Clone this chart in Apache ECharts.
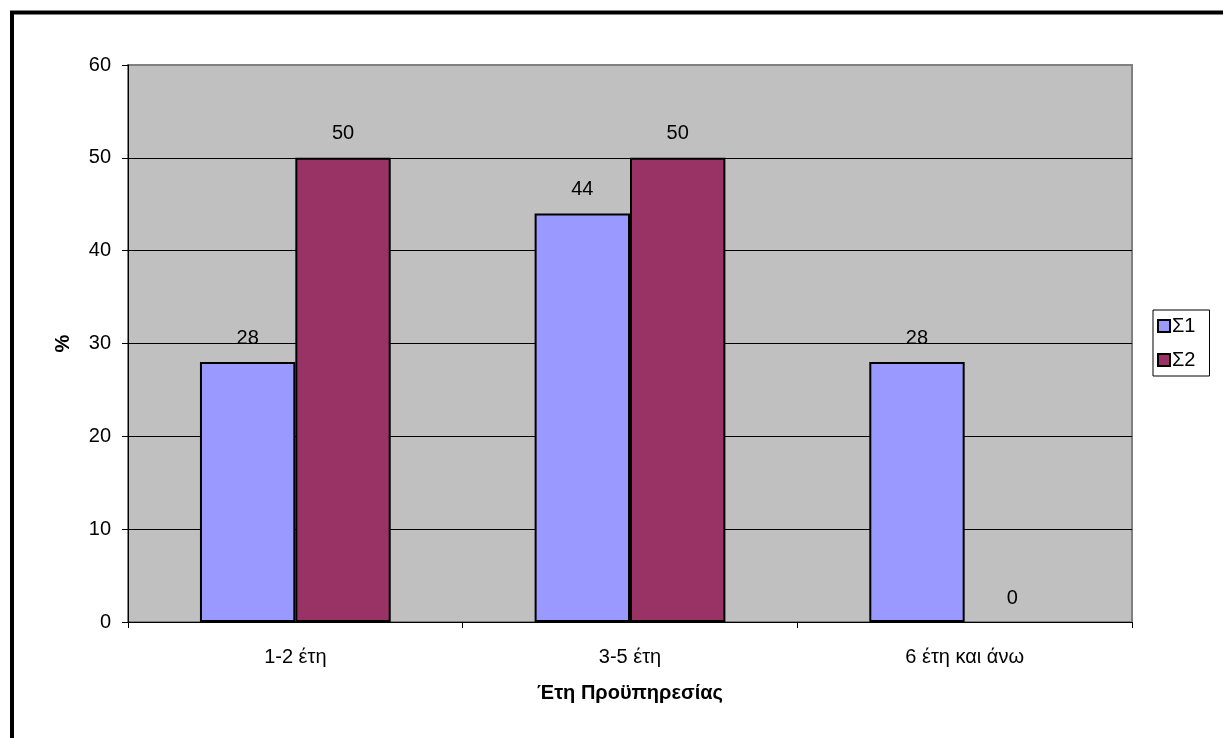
<!DOCTYPE html>
<html>
<head>
<meta charset="utf-8">
<script src="https://cdn.jsdelivr.net/npm/echarts@6/dist/echarts.min.js"></script>
<style>
  html, body { margin: 0; padding: 0; background: #fff; }
  #chart { width: 1223px; height: 738px; }
</style>
</head>
<body>
<div id="chart"></div>
<script>
// Years of service categories and the percentage per group
const categories = ['1-2 έτη', '3-5 έτη', '6 έτη και άνω'];
const seriesNames = ['Σ1', 'Σ2'];
const s1Values = [28, 44, 28];
const s2Values = [50, 50, 0];
const yTicks = [0, 10, 20, 30, 40, 50, 60];

const FONT = 'Liberation Sans, Arial, sans-serif';
const FS = 20;

const chart = echarts.init(document.getElementById('chart'), null, { renderer: 'canvas' });

const labelStyle = {
  show: true,
  position: 'top',
  distance: 14,
  color: '#000',
  fontSize: FS,
  fontFamily: FONT
};

// zero-height bars get no outline so only their value label shows
function barData(values) {
  return values.map(v => v === 0 ? { value: v, itemStyle: { borderWidth: 0 } } : v);
}

chart.setOption({
  animation: false,
  backgroundColor: '#fff',
  graphic: [{
    type: 'rect',
    shape: { x: 12, y: 12.5, width: 1300, height: 800 },
    style: { fill: 'none', stroke: '#000', lineWidth: 4 },
    silent: true
  }],
  grid: {
    left: 128, right: 91, top: 65, bottom: 116,
    show: true,
    backgroundColor: '#C0C0C0',
    borderColor: '#808080',
    borderWidth: 2
  },
  legend: {
    orient: 'vertical',
    left: 1153, top: 310,
    data: seriesNames,
    icon: 'rect',
    itemWidth: 12, itemHeight: 12,
    itemGap: 14,
    padding: [6, 14, 6, 4],
    borderColor: '#000',
    borderWidth: 1,
    backgroundColor: '#fff',
    textStyle: { color: '#000', fontSize: FS, fontFamily: FONT, padding: [0, 0, 0, -3] },
    itemStyle: { borderColor: '#000', borderWidth: 2 }
  },
  xAxis: {
    type: 'category',
    data: categories,
    name: 'Έτη Προϋπηρεσίας',
    nameLocation: 'middle',
    nameGap: 61,
    nameTextStyle: { color: '#000', fontSize: FS, fontWeight: 'bold', fontFamily: FONT },
    axisLine: { lineStyle: { color: '#000', width: 1 } },
    axisTick: { show: true, alignWithLabel: false, length: 6, lineStyle: { color: '#000' } },
    axisLabel: { color: '#000', fontSize: FS, fontFamily: FONT, margin: 25 },
    splitLine: { show: false }
  },
  yAxis: {
    type: 'value',
    min: yTicks[0],
    max: yTicks[yTicks.length - 1],
    interval: 10,
    name: '%',
    nameLocation: 'middle',
    nameGap: 55,
    nameRotate: 90,
    nameTextStyle: { color: '#000', fontSize: FS, fontWeight: 'bold', fontFamily: FONT },
    axisLine: { show: true, lineStyle: { color: '#000', width: 1 } },
    axisTick: { show: true, length: 6, lineStyle: { color: '#000' } },
    axisLabel: { color: '#000', fontSize: FS, fontFamily: FONT, margin: 17 },
    splitLine: { show: true, showMaxLine: false, lineStyle: { color: '#000', width: 1 } }
  },
  series: [
    {
      name: seriesNames[0],
      type: 'bar',
      data: barData(s1Values),
      barGap: '0%',
      barCategoryGap: '43%',
      itemStyle: { color: '#9999FF', borderColor: '#000', borderWidth: 2 },
      label: labelStyle
    },
    {
      name: seriesNames[1],
      type: 'bar',
      data: barData(s2Values),
      itemStyle: { color: '#993366', borderColor: '#000', borderWidth: 2 },
      label: labelStyle
    }
  ]
});
</script>
</body>
</html>
